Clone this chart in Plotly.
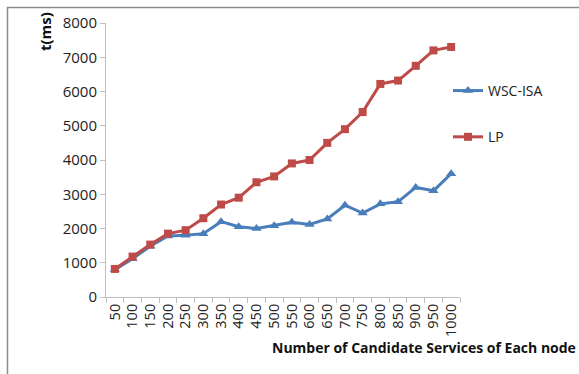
import plotly.graph_objects as go

categories = ["50", "100", "150", "200", "250", "300", "350", "400", "450", "500",
              "550", "600", "650", "700", "750", "800", "850", "900", "950", "1000"]
wsc_isa = [800, 1120, 1480, 1780, 1800, 1850, 2200, 2050, 2000, 2080,
           2180, 2120, 2280, 2680, 2450, 2720, 2780, 3200, 3100, 3600]
lp = [820, 1180, 1530, 1850, 1950, 2300, 2700, 2900, 3350, 3520,
      3900, 4000, 4500, 4900, 5400, 6220, 6320, 6750, 7200, 7300]

W, H = 579, 374
L, R, T, B = 106, 119, 23, 77
pw, ph = W - L - R, H - T - B
FONT = "Open Sans"

def px_x(px):
    return (px - L) / pw

def px_y(py):
    return (H - B - py) / ph

fig = go.Figure()
fig.add_trace(go.Scatter(x=categories, y=wsc_isa, name="WSC-ISA", mode="lines+markers",
                         line=dict(color="#4A7EBB", width=3),
                         marker=dict(symbol="triangle-up", size=9, color="#4A7EBB"),
                         legendgroup="a"))
fig.add_trace(go.Scatter(x=categories, y=lp, name="LP", mode="lines+markers",
                         line=dict(color="#BE4B48", width=3),
                         marker=dict(symbol="square", size=8, color="#BE4B48"),
                         legendgroup="b"))

fig.update_layout(
    width=W, height=H,
    margin=dict(l=L, r=R, t=T, b=B),
    paper_bgcolor="white", plot_bgcolor="white",
    font=dict(family=FONT, size=14, color="#222222"),
    showlegend=True,
    legend=dict(x=px_x(448), y=px_y(75), xanchor="left", yanchor="top",
                font=dict(size=14, color="#222222"), tracegroupgap=25,
                bgcolor="rgba(0,0,0,0)"),
    xaxis=dict(type="category", range=[-0.5, 19.5], showgrid=False, zeroline=False,
               showline=True, linecolor="#BFBFBF", linewidth=1,
               ticks="outside", tickson="boundaries", ticklen=5, tickcolor="#BFBFBF",
               tickangle=-90, tickfont=dict(size=14.5)),
    yaxis=dict(range=[0, 8000], dtick=1000, showgrid=False, zeroline=False,
               showline=True, linecolor="#BFBFBF", linewidth=1,
               ticks="outside", ticklen=5, tickcolor="#BFBFBF",
               tickfont=dict(size=15)),
    shapes=[dict(type="rect", xref="paper", yref="paper",
                 x0=px_x(7.5), x1=px_x(600), y0=px_y(400), y1=px_y(7.5),
                 line=dict(color="#8C8C8C", width=1.5), fillcolor="rgba(0,0,0,0)",
                 layer="below")],
    annotations=[
        dict(text="<b>Number of Candidate Services of Each node</b>", xref="paper", yref="paper",
             x=px_x(424), y=px_y(347), xanchor="center", yanchor="middle",
             showarrow=False, font=dict(size=14, color="#111111")),
        dict(text="<b>t(ms)</b>", xref="paper", yref="paper", textangle=-90,
             x=px_x(45), y=px_y(32), xanchor="center", yanchor="middle",
             showarrow=False, font=dict(size=15, color="#111111")),
    ],
)

fig.write_html("out.html")
